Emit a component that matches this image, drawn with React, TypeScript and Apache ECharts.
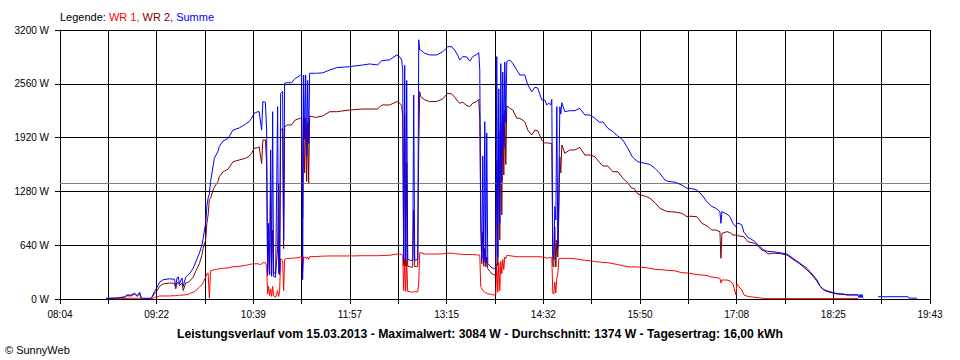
import React, { useEffect, useRef } from "react";
import * as echarts from "echarts";

// ---- Data ----
const X_LABELS = ["08:04", "09:22", "10:39", "11:57", "13:15", "14:32", "15:50", "17:08", "18:25", "19:43"];
const X_STEPS = 18;
const Y_MAX = 3200;
const Y_STEP = 640;

const DATE = "15.03.2013";
const MAX_W = 3084;
const AVERAGE_W = 1374;
const ENERGY_KWH = "16,00";

const TIMES = [
  "08:41", "08:45", "08:50", "08:56", "08:58", "09:01", "09:04", "09:06", "09:08", "09:09",
  "09:10", "09:14", "09:17", "09:18", "09:20", "09:22", "09:24", "09:27", "09:32", "09:36",
  "09:37", "09:38", "09:39", "09:40", "09:42", "09:43", "09:45", "09:47", "09:48", "09:51",
  "09:53", "09:56", "09:58", "09:59", "10:01", "10:02", "10:03", "10:04", "10:05", "10:07",
  "10:08", "10:11", "10:12", "10:15", "10:19", "10:23", "10:28", "10:33", "10:36", "10:38",
  "10:40", "10:43", "10:44", "10:46", "10:47", "10:49", "10:50", "10:50:49", "10:51:37", "10:52:25",
  "10:53:13", "10:54:02", "10:54:50", "10:55:38", "10:57:14", "10:58:51", "10:59:40", "11:00:28", "11:01:16", "11:02:52",
  "11:03:41", "11:04:29", "11:06:05", "11:10", "11:13", "11:15", "11:17:20", "11:18:09", "11:18:57", "11:19:45",
  "11:20:34", "11:21:22", "11:22:10", "11:22:58", "11:23:47", "11:24:35", "11:29:24", "11:35", "11:40:40", "11:46:17",
  "11:56:44", "12:07:11", "12:12:49", "12:19:14", "12:22:28", "12:28:53", "12:34:31", "12:36:56", "12:38:32", "12:39:20",
  "12:40:09", "12:40:57", "12:41:46", "12:42:34", "12:43:22", "12:45:47", "12:47:23", "12:48:11", "12:49:00", "12:51:25",
  "12:52:13", "12:53:01", "12:53:49", "12:57", "13:01", "13:06:41", "13:11:31", "13:15:32", "13:18:45", "13:21:10",
  "13:23:34", "13:25:11", "13:27:35", "13:30:49", "13:33:13", "13:35:38", "13:38:51", "13:40:27", "13:41:16", "13:42:04",
  "13:42:52", "13:43:40", "13:44:29", "13:45:17", "13:46:05", "13:46:53", "13:47:41", "13:49:18", "13:50:55", "13:52:31",
  "13:54:07", "13:54:56", "13:55:44", "13:56:32", "13:57:20", "13:58:08", "13:58:57", "13:59:45", "14:00:34", "14:01:22",
  "14:02:10", "14:02:58", "14:05:23", "14:07:47", "14:11", "14:13:25", "14:17:26", "14:19:51", "14:23:04", "14:25:29",
  "14:27:53", "14:31:06", "14:33:31", "14:35:07", "14:36:44", "14:38:20", "14:39:08", "14:39:57", "14:40:45", "14:41:33",
  "14:42:22", "14:43:10", "14:43:58", "14:44:47", "14:45:35", "14:46:23", "14:47:11", "14:49:36", "14:53:37", "14:57:38",
  "15:01:40", "15:05:41", "15:09:42", "15:13:43", "15:17:44", "15:20:09", "15:24:10", "15:28:11", "15:32:13", "15:36:14",
  "15:40:15", "15:43:28", "15:45:04", "15:48:17", "15:53:55", "15:57:56", "16:01:58", "16:05:59", "16:10", "16:12:25",
  "16:18:02", "16:23:40", "16:27:41", "16:30:06", "16:35:43", "16:39:44", "16:43:46", "16:47:47", "16:51", "16:54:13",
  "16:55:01", "16:55:49", "16:59:50", "17:02:15", "17:04:40", "17:07:05", "17:07:53", "17:09:29", "17:11:54", "17:13:31",
  "17:15:07", "17:16:43", "17:18:20", "17:22:21", "17:26:22", "17:28:47", "17:30:23", "17:32:48", "17:36:49", "17:42:27",
  "17:48:05", "17:52:54", "17:58:32", "18:04:10", "18:08:59", "18:12:12", "18:14:37", "18:17:01", "18:19:26", "18:22:39",
  "18:28:17", "18:33:06", "18:36:19", "18:45:10", "18:45:58", "18:46:46", "18:47:34", "18:48:23", "18:49:11", "18:54:48",
  "19:01:14", "19:25:22", "19:26:10", "19:32:36",
];

const WR1 = [
  0, 0, 0, 5, 8, 8, 8, 8, 10, 5,
  0, 0, 0, 5, 20, 25, 36, 36, 36, 40,
  40, 40, 40, 45, 45, 48, 50, 55, 65, 80,
  100, 140, 170, 195, 260, 300, 310, 10, 335, 345,
  350, 355, 360, 365, 370, 384, 388, 400, 410, 416,
  418, 420, 412, 415, 432, 432, 393, 60, 150, 40,
  120, 30, 150, 40, 20, 100, 30, 90, 480, 460,
  100, 472, 480, 485, 488, 490, 500, 500, 320, 500,
  490, 500, 480, 500, 470, 503, 505, 510, 512, 512,
  512, 515, 515, 515, 518, 520, 535, 535, 530, 523,
  100, 480, 90, 464, 90, 85, 80, 90, 85, 85,
  200, 551, 551, 535, 535, 535, 538, 545, 545, 540,
  535, 535, 530, 530, 530, 528, 525, 523, 523, 140,
  130, 100, 90, 80, 70, 70, 60, 60, 50, 50,
  48, 420, 80, 430, 100, 450, 300, 470, 350, 500,
  480, 519, 515, 510, 503, 503, 503, 503, 503, 503,
  503, 500, 495, 485, 490, 495, 490, 68, 60, 200,
  70, 250, 300, 480, 484, 484, 484, 484, 484, 478,
  470, 460, 455, 445, 440, 435, 432, 420, 410, 395,
  384, 380, 384, 380, 375, 365, 353, 350, 345, 340,
  335, 313, 310, 305, 290, 285, 280, 260, 255, 246,
  190, 226, 226, 215, 178, 48, 178, 146, 107, 48,
  40, 30, 27, 20, 12, 8, 6, 5, 5, 5,
  5, 5, 5, 5, 5, 5, 5, 5, 5, 5,
  5, 5, 5, 5, null, null, null, null, null, null,
  null, null, null, null,
];

const WR2 = [
  5, 8, 10, 20, 40, 35, 60, 30, 65, 15,
  5, 5, 5, 20, 70, 100, 150, 180, 190, 185,
  120, 190, 200, 160, 190, 100, 190, 200, 210, 260,
  330, 420, 520, 600, 700, 900, 1000, 1180, 1200, 1297,
  1330, 1400, 1455, 1514, 1543, 1633, 1654, 1674, 1700, 1733,
  1793, 1800, 1812, 1610, 1892, 1892, 1614, 330, 700, 300,
  1300, 310, 820, 320, 300, 600, 1380, 320, 2000, 2031,
  600, 2043, 2070, 2070, 2129, 2140, 2150, 2150, 963, 2150,
  1500, 2150, 1400, 2100, 1380, 2177, 2160, 2177, 2228, 2228,
  2248, 2260, 2260, 2260, 2308, 2308, 2347, 2330, 2300, 2170,
  400, 2213, 390, 1614, 390, 380, 380, 1059, 385, 390,
  1800, 2466, 2407, 2370, 2347, 2350, 2380, 2447, 2440, 2400,
  2350, 2330, 2340, 2300, 2288, 2330, 2350, 2375, 2150, 860,
  420, 800, 390, 600, 380, 500, 360, 330, 300, 290,
  280, 1650, 400, 2000, 700, 2100, 1000, 2200, 1475, 2250,
  1600, 2296, 2270, 2248, 2150, 2150, 2109, 2010, 1951, 2010,
  2000, 1891, 1852, 1860, 1852, 1852, 1850, 400, 380, 860,
  380, 700, 500, 1000, 1693, 1500, 1832, 1733, 1773, 1773,
  1804, 1713, 1713, 1693, 1620, 1582, 1582, 1514, 1514, 1436,
  1380, 1317, 1317, 1249, 1225, 1200, 1146, 1079, 1050, 1039,
  1035, 1019, 979, 985, 979, 900, 870, 821, 820, 801,
  484, 781, 801, 790, 761, 760, 761, 750, 745, 740,
  710, 682, 675, 662, 603, 575, 570, 535, 545, 540,
  523, 472, 416, 345, 273, 210, 150, 115, 95, 79,
  59, 55, 48, 48, null, null, null, null, null, null,
  null, null, null, null,
];

const SUMME = [
  8, 10, 12, 27, 50, 45, 70, 40, 80, 20,
  8, 8, 8, 27, 90, 140, 200, 230, 240, 235,
  150, 250, 265, 180, 250, 150, 260, 290, 300, 365,
  440, 545, 640, 720, 900, 1100, 1200, 1250, 1400, 1580,
  1674, 1760, 1815, 1880, 1910, 2010, 2035, 2080, 2110, 2150,
  2210, 2228, 2228, 2010, 2347, 2340, 2010, 280, 900, 290,
  1773, 270, 2228, 270, 260, 2287, 300, 290, 2447, 2470,
  700, 2566, 2573, 2573, 2625, 2640, 2665, 2665, 230, 2665,
  1900, 2665, 1700, 2600, 1850, 2685, 2685, 2690, 2724, 2752,
  2764, 2784, 2796, 2784, 2835, 2845, 2903, 2880, 2843, 2724,
  470, 2780, 460, 2600, 470, 460, 460, 2427, 460, 470,
  3084, 2962, 2962, 2923, 2903, 2903, 2942, 3001, 3001, 2960,
  2900, 2843, 2883, 2880, 2830, 2883, 2910, 2931, 2724, 1000,
  470, 1700, 440, 2109, 430, 1975, 420, 400, 370, 360,
  380, 2883, 500, 2500, 900, 2800, 1400, 2700, 1800, 2820,
  2100, 2823, 2843, 2804, 2724, 2665, 2665, 2546, 2466, 2518,
  2510, 2367, 2367, 2308, 2330, 2308, 2375, 543, 470, 1100,
  940, 2288, 600, 1300, 2288, 2200, 2335, 2228, 2240, 2240,
  2268, 2189, 2189, 2150, 2100, 2109, 2031, 1990, 1939, 1891,
  1793, 1700, 1674, 1633, 1614, 1600, 1555, 1495, 1416, 1400,
  1390, 1356, 1317, 1317, 1297, 1237, 1157, 1100, 1079, 1039,
  900, 1040, 1010, 979, 900, 860, 900, 900, 880, 790,
  770, 730, 722, 682, 622, 590, 575, 565, 563, 550,
  535, 484, 424, 365, 285, 226, 155, 120, 100, 87,
  65, 60, 50, 50, 15, 55, 15, 55, 8, null,
  27, 27, 10, 10,
];

// ---- helpers ----
const toSec = (t: string) => {
  const p = t.split(":").map(Number);
  return p[0] * 3600 + p[1] * 60 + (p[2] || 0);
};
const START = toSec(X_LABELS[0]);
const X_MAX = toSec(X_LABELS[X_LABELS.length - 1]) - START;
const X_INTERVAL = X_MAX / X_STEPS;

const pairs = (vals: (number | null)[]) =>
  TIMES.map((t, i) => [toSec(t) - START, vals[i] === null ? null : vals[i]]);

const FONT = "'Liberation Sans', Arial, sans-serif";

export default function App() {
  const ref = useRef<HTMLDivElement>(null);

  useEffect(() => {
    if (!ref.current) return;
    const chart = echarts.init(ref.current, undefined, { renderer: "svg" });

    const lineSeries = (name: string, color: string, vals: (number | null)[], z: number, extra: any = {}) => ({
      type: "line",
      name,
      data: pairs(vals),
      showSymbol: false,
      symbol: "none",
      connectNulls: false,
      lineStyle: { color, width: 1 },
      itemStyle: { color },
      emphasis: { disabled: true },
      z,
      ...extra,
    });

    const title = `Leistungsverlauf vom ${DATE} - Maximalwert: ${MAX_W} W - Durchschnitt: ${AVERAGE_W} W - Tagesertrag: ${ENERGY_KWH} kWh`;

    chart.setOption({
      animation: false,
      backgroundColor: "#ffffff",
      textStyle: { fontFamily: FONT },
      grid: { left: 60, right: 30, top: 30, bottom: 61, containLabel: false },
      xAxis: {
        type: "value",
        min: 0,
        max: X_MAX,
        interval: X_INTERVAL,
        axisLine: { show: true, lineStyle: { color: "#000", width: 1 } },
        axisTick: { show: true, length: 5, inside: false, lineStyle: { color: "#000", width: 1 } },
        axisLabel: {
          margin: 10,
          color: "#000",
          fontFamily: FONT,
          fontSize: 10,
          formatter: (v: number) => {
            const i = Math.round(v / X_INTERVAL);
            return i % 2 === 0 ? X_LABELS[i / 2] ?? "" : "";
          },
        },
        splitLine: { show: true, lineStyle: { color: "#000", width: 1 } },
      },
      yAxis: {
        type: "value",
        min: 0,
        max: Y_MAX,
        interval: Y_STEP,
        axisLine: { show: true, lineStyle: { color: "#000", width: 1 } },
        axisTick: { show: true, length: 5, inside: false, lineStyle: { color: "#000", width: 1 } },
        axisLabel: {
          margin: 11,
          color: "#000",
          fontFamily: FONT,
          fontSize: 10,
          formatter: (v: number) => `${v} W`,
        },
        splitLine: { show: true, lineStyle: { color: "#000", width: 1 } },
      },
      series: [
        lineSeries("WR 1", "#ff0000", WR1, 3, {
          markLine: {
            silent: true,
            symbol: "none",
            label: { show: false },
            lineStyle: { color: "#808080", width: 1, type: "solid" },
            data: [{ yAxis: AVERAGE_W }],
          },
        }),
        lineSeries("WR 2", "#800000", WR2, 4),
        lineSeries("Summe", "#0000ff", SUMME, 5),
      ],
      graphic: [
        {
          type: "text",
          x: 60,
          y: 17,
          style: {
            text: "{k|Legende: }{a|WR 1, }{b|WR 2, }{c|Summe}",
            verticalAlign: "middle",
            font: `11px ${FONT}`,
            rich: {
              k: { fill: "#000", fontSize: 11, fontFamily: FONT },
              a: { fill: "#ff0000", fontSize: 11, fontFamily: FONT },
              b: { fill: "#800000", fontSize: 11, fontFamily: FONT },
              c: { fill: "#0000ff", fontSize: 11, fontFamily: FONT },
            },
          },
        },
        {
          type: "text",
          x: 480,
          y: 334,
          style: {
            text: title,
            align: "center",
            verticalAlign: "middle",
            fill: "#000",
            font: `bold 12.2px ${FONT}`,
          },
        },
        {
          type: "text",
          x: 5,
          y: 350,
          style: {
            text: "© SunnyWeb",
            verticalAlign: "middle",
            fill: "#000",
            font: `11px ${FONT}`,
          },
        },
      ],
    });

    return () => chart.dispose();
  }, []);

  return (
    <div
      ref={ref}
      style={{ position: "absolute", left: 0, top: 0, width: 960, height: 360, background: "#fff" }}
    />
  );
}
